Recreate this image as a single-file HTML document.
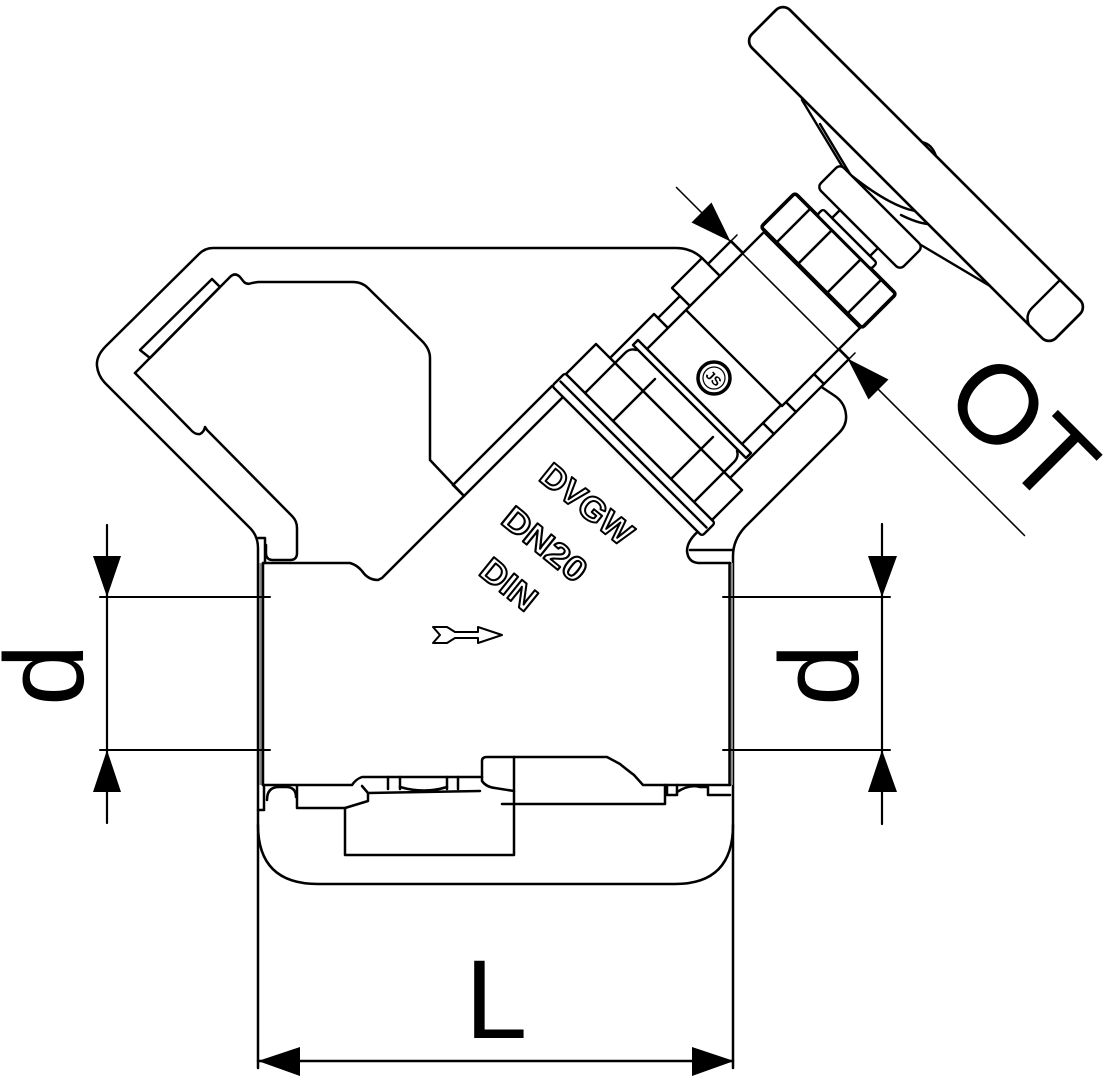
<!DOCTYPE html>
<html><head><meta charset="utf-8"><style>
html,body{margin:0;padding:0;background:#fff;}
svg{display:block;}
</style></head><body>
<svg width="1106" height="1080" viewBox="0 0 1106 1080" xmlns="http://www.w3.org/2000/svg">
<rect width="1106" height="1080" fill="#fff"/>
<g fill="none" stroke="#000" stroke-width="2.5" stroke-linejoin="round" stroke-linecap="round">
<!-- body outer outline -->
<path d="M 703,259 Q 692,248 676,248 L 213,248 Q 205,248 199,254 L 106,346 Q 96,356 97,366 Q 98,376 106,384 L 250,528 Q 258,536 258,548 L 258,825 Q 258,884 318,884 L 675,884 Q 733,884 733,825 L 733,556 Q 733,540 745,527 L 839,433 Q 847,425 846,415 Q 845,403 835,396 L 820,386"/>
<!-- strainer plug -->
<path d="M 135,373 L 230,277 Q 235,272 240,277 L 244,282 Q 247,285 252,283 L 258,282 L 353,282 Q 362,282 368,288 L 422,341 Q 430,349 430,358 L 430,460 L 464,496"/>
<path d="M 135,373 L 190,429 Q 195,435 200,434 Q 204,432 205,427 L 207,430 L 292,516 Q 297,521 297,528 L 297,553 Q 297,560 290,560 L 273,560 Q 266,560 266,553 L 266,545"/>
<polygon points="140,350 212,279 220,287 150,358"/>
<path d="M 258,538 L 265,538 L 265,563"/>
<!-- bore top / neck -->
<path d="M 263,563 L 350,563 Q 357,565 362,571 Q 368,580 378,580 L 382,578 L 563,397"/>
<path d="M 453,485 L 552,386"/>
<path d="M 453,485 L 464,496"/>
<!-- pipe ends -->
<rect x="259" y="563" width="3" height="222" fill="#888" stroke="none"/>
<path d="M 263,563 L 263,785"/>
<rect x="730" y="563" width="3" height="222" fill="#888" stroke="none"/>
<path d="M 729.5,563 L 729.5,785"/>
<path d="M 701,529 Q 687,540 687,551 Q 688,562 698,563 L 730,563"/>
<path d="M 690,550 L 733,550"/>
<!-- bottom details -->
<path d="M 263,785 L 352,785 Q 356,779 362,777 L 482,777"/>
<path d="M 482,777 L 482,761 Q 482,757 487,757 L 607,757 L 620,764 Q 626,769 634,775 L 643,785 L 730,785"/>
<path d="M 368,793 L 480,791"/>
<path d="M 388,777 L 388,789 M 400,777 L 400,789 M 447,777 L 447,789 M 458,777 L 458,789"/>
<path d="M 400,787 Q 424,794 447,787"/>
<path d="M 297,786 L 297,808 L 345,808 L 368,801 L 368,793 L 362,786"/>
<path d="M 345,808 L 345,855 L 514,855 L 514,757"/>
<path d="M 502,804 L 665,804 L 665,785"/>
<path d="M 482,777 L 482,781 Q 486,787 495,788 L 514,791"/>
<path d="M 667,785 L 667,795 L 677,795 L 677,785"/>
<path d="M 677,792 Q 690,784 700,787 L 708,787 L 708,795 L 730,795"/>
<path d="M 258,810 L 264,810 L 264,786"/>
<path d="M 267,800 Q 267,787 279,787 L 286,787 Q 296,787 296,797"/>
<!-- flow arrow -->
<polygon stroke-width="2" points="433,627 447,627 455,632 478,632 478,627 502,635 478,643 478,638 455,638 447,643 433,643 440,635"/>

<!-- d dims left -->
<path d="M 107,525 L 107,823" stroke-width="2.2"/>
<path d="M 100,597 L 270,597 M 100,750 L 270,750" stroke-width="2"/>
<polygon points="93,556 121,556 107,597" fill="#000" stroke="none"/>
<polygon points="93,792 121,792 107,750" fill="#000" stroke="none"/>
<!-- d dims right -->
<path d="M 882,524 L 882,824" stroke-width="2.2"/>
<path d="M 723,597 L 890,597 M 723,750 L 890,750" stroke-width="2"/>
<polygon points="868,556 897,556 882,597" fill="#000" stroke="none"/>
<polygon points="868,792 897,792 882,750" fill="#000" stroke="none"/>
<!-- L dim -->
<path d="M 258,825 L 258,1068 M 733,825 L 733,1068"/>
<path d="M 258,1061 L 733,1061"/>
<polygon points="258,1061 300,1047 300,1076" fill="#000" stroke="none"/>
<polygon points="734,1061 692,1047 692,1076" fill="#000" stroke="none"/>
</g>

<!-- bonnet / handwheel in rotated frame: u along axis, v across -->
<g transform="matrix(1,-1,1,1,0,0)" fill="#fff" stroke="#000" stroke-width="1.7" stroke-linejoin="round" stroke-linecap="round">
  <rect x="83" y="469" width="13" height="150" rx="2"/>
  <line x1="89.5" y1="471" x2="89.5" y2="617"/>
  <rect x="126" y="484" width="44" height="120"/>
  <rect x="96" y="470" width="30" height="146"/>
  <path fill="none" d="M 96,489 L 136,489 Q 141,489 143,493 M 96,517 L 138,517 M 96,575 L 138,575 M 96,598 L 136,598 Q 141,598 143,594"/>
  <rect x="144" y="489" width="5" height="113"/>
  <rect x="170" y="488" width="22" height="10"/>
  <rect x="170" y="593" width="22" height="11"/>
  <rect x="192" y="480" width="30" height="18"/>
  <rect x="192" y="594" width="28" height="10"/>
  <rect x="222" y="486" width="23" height="12"/>
  <rect x="220" y="594" width="25" height="10"/>
  <rect x="149" y="498" width="41" height="95"/>
  <rect x="188" y="498" width="78" height="96"/>
  <!-- hex nut -->
  <rect x="267" y="494" width="34" height="101" rx="2" stroke-width="2.6"/>
  <path fill="none" d="M 267,509.5 L 301,509.5 M 267,531 L 301,531 M 267,560 L 301,560 M 267,580.5 L 301,580.5" stroke-width="1.8"/>
  <rect x="301" y="516" width="6" height="54" rx="2"/>
  <rect x="307" y="525" width="8" height="38"/>
  <rect x="315" y="502" width="23" height="83" rx="4"/>
  <!-- handwheel -->
  <path fill="none" d="M 338,504 L 351,451 M 338,512 L 348,472 M 338,514 Q 342,548 352,563 M 343,558 Q 347,570 352,576 M 338,583 L 352,638"/>
  <rect x="352" y="393" width="38" height="304" rx="7" stroke-width="1.9"/>
  <path fill="none" d="M 352,677 Q 355,670 362,670 L 390,670"/>
  <path fill="none" d="M 390,532 Q 394,538 390,546"/>
  <!-- OT dimension -->
  <path fill="none" stroke-width="1.1" d="M 244.5,432 L 244.5,780 M 245,486 L 251,486 M 245,604 L 251,604"/>
  <polygon fill="#000" stroke="none" points="244.5,486 234.5,457 254.5,457"/>
  <polygon fill="#000" stroke="none" points="244.5,603 234.5,634 254.5,634"/>
</g>

<!-- JS logo -->
<circle cx="714" cy="378" r="16" fill="#fff" stroke="#000" stroke-width="3.5"/>
<circle cx="714" cy="378" r="11" fill="none" stroke="#000" stroke-width="1.2"/>
<text x="714" y="383" transform="rotate(45 714 378)" text-anchor="middle" font-family="Liberation Sans, sans-serif" font-weight="bold" font-size="13" fill="#000">JS</text>

<!-- cast markings -->
<g font-family="Liberation Sans, sans-serif" font-weight="bold" font-size="34" fill="#fff" stroke="#000" stroke-width="2" stroke-linejoin="round" text-anchor="middle">
  <text x="587" y="516" transform="rotate(39 587 504)" textLength="108" lengthAdjust="spacingAndGlyphs">DVGW</text>
  <text x="545" y="556" transform="rotate(39 545 544)" textLength="98" lengthAdjust="spacingAndGlyphs">DN20</text>
  <text x="509" y="596" transform="rotate(39 509 584)" textLength="62" lengthAdjust="spacingAndGlyphs">DIN</text>
</g>

<!-- dimension labels -->
<g font-family="Liberation Sans, sans-serif" font-size="112" fill="#000">
  <text transform="translate(83,706) rotate(-90)">d</text>
  <text transform="translate(858,706) rotate(-90)">d</text>
  <text x="465" y="1038">L</text>
  <text x="940" y="401" transform="rotate(45 940 401)">OT</text>
</g>
</svg>
</body></html>
